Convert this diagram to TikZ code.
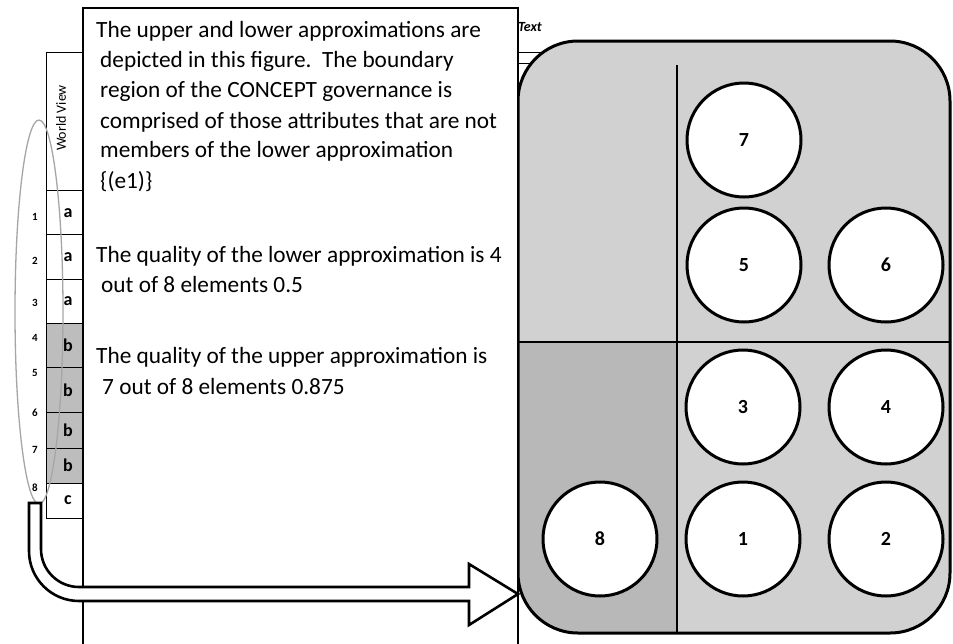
\documentclass[tikz,border=0pt]{standalone}
\usepackage{fontspec}
\setmainfont{Carlito}
\definecolor{panelgray}{gray}{0.82}
\definecolor{darkgray2}{gray}{0.72}
\definecolor{rowgray}{gray}{0.74}
\begin{document}
\begin{tikzpicture}[x=1pt,y=-1pt,
  txt/.style={anchor=base west, inner sep=0pt, font=\fontsize{23.3}{30}\selectfont},
  circ/.style={circle, draw, line width=3pt, fill=white, minimum size=114pt, inner sep=0pt, font=\bfseries\fontsize{20}{20}\selectfont},
  letter/.style={inner sep=0pt, font=\bfseries\fontsize{18}{18}\selectfont},
  rownum/.style={inner sep=0pt, font=\bfseries\fontsize{11}{11}\selectfont},
  thin line/.style={line width=0.8pt}
]
\useasboundingbox (0,0) rectangle (953,643);
\clip (0,0) rectangle (953,643);
\fill[white] (0,0) rectangle (953,643);

% ---- table behind the text box ----
\fill[rowgray] (46,323) rectangle (95,483);
\draw[thin line] (46,52) rectangle (95,518);
\foreach \yy in {190,234,279,323,367,412,448,483} \draw[thin line] (46,\yy) -- (95,\yy);
\node[rotate=90, inner sep=0pt, font=\fontsize{14}{14}\selectfont] (wv) at (61,118) {World View};
\node[letter] (r1) at (68,213) {a};
\node[letter] (r2) at (68,257) {a};
\node[letter] (r3) at (68,301) {a};
\node[letter] (r4) at (68,345) {b};
\node[letter] (r5) at (68,390) {b};
\node[letter] (r6) at (68,430) {b};
\node[letter] (r7) at (68,465) {b};
\node[letter] (r8) at (68,500) {c};
\node[rownum] (n1) at (35,217) {1};
\node[rownum] (n2) at (35,261) {2};
\node[rownum] (n3) at (35,303) {3};
\node[rownum] (n4) at (35,338) {4};
\node[rownum] (n5) at (35,373) {5};
\node[rownum] (n6) at (35,413) {6};
\node[rownum] (n7) at (35,450) {7};
\node[rownum] (n8) at (35,488) {8};
\draw[gray!70, line width=1.3pt] (39,312) ellipse [x radius=24, y radius=192];

% ---- header remnants on the right ----
\draw[thin line] (518,52) -- (565,52);
\draw[thin line] (518,63) -- (548,63);
\node[anchor=base east, inner sep=0pt, font=\bfseries\itshape\fontsize{14}{14}\selectfont] (hdr) at (542,31) {Text};

% ---- right panel ----
\fill[panelgray, rounded corners=60pt] (518,41) rectangle (950,633);
\begin{scope}
  \clip[rounded corners=60pt] (518,41) rectangle (950,633);
  \fill[darkgray2] (518,342) rectangle (677,633);
\end{scope}
\draw[line width=1.2pt] (677,65) -- (677,633);
\draw[line width=1.2pt] (518,342) -- (950,342);
\draw[line width=3pt, rounded corners=60pt] (518,41) rectangle (950,633);

\node[circ] (c7) at (744,140) {7};
\node[circ] (c5) at (744,265) {5};
\node[circ] (c6) at (886,265) {6};
\node[circ] (c3) at (743,407) {3};
\node[circ] (c4) at (886,407) {4};
\node[circ] (c8) at (600,539) {8};
\node[circ] (c1) at (743,539) {1};
\node[circ] (c2) at (886,539) {2};

% ---- text box ----
\fill[white] (83,8) rectangle (518,660);
\draw[line width=1.2pt] (83,660) -- (83,8) -- (518,8) -- (518,660);
\node[txt] (t1) at (96,37) {The upper and lower approximations are};
\node[txt] (t2) at (100,67) {depicted in this figure.\ \ The boundary};
\node[txt] (t3) at (100,97) {region of the CONCEPT governance is};
\node[txt] (t4) at (100,128) {comprised of those attributes that are not};
\node[txt] (t5) at (100,157) {members of the lower approximation};
\node[txt] (t6) at (100,188) {\{(e1)\}};
\node[txt] (t7) at (96,262) {The quality of the lower approximation is 4};
\node[txt] (t8) at (101,292) {out of 8 elements\ 0.5};
\node[txt] (t9) at (96,363) {The quality of the upper approximation is};
\node[txt] (t10) at (102,394) {7 out of 8 elements\ 0.875};

% ---- bent block arrow ----
\coordinate (tip) at (518,594);
\draw[line width=2.6pt, fill=white, line join=miter]
  (29,503) -- (29,551) arc[start angle=180, end angle=90, radius=50]
  -- (469,601) -- (469,625) -- (tip) -- (469,564) -- (469,587)
  -- (79,587) arc[start angle=90, end angle=180, radius=38]
  -- (41,503) -- cycle;
\end{tikzpicture}
\end{document}
